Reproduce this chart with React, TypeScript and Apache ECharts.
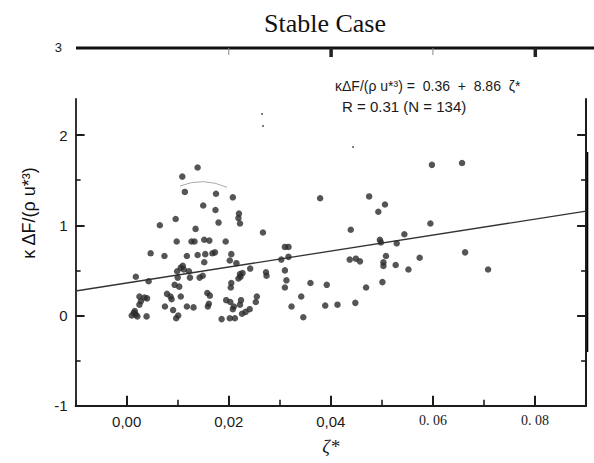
import React, { useEffect, useRef } from 'react';
import * as echarts from 'echarts';

// ---- data ----
const zeta = [
  0.0139, 0.0109, 0.0114, 0.0175, 0.0208, 0.0150, 0.0174, 0.0220, 0.0219, 0.0222,
  0.0180, 0.0096, 0.0065, 0.0135, 0.0267, 0.0098, 0.0127, 0.0133, 0.0152, 0.0162,
  0.0194, 0.0310, 0.0317, 0.0047, 0.0074, 0.0118, 0.0139, 0.0154, 0.0168, 0.0173,
  0.0205, 0.0202, 0.0152, 0.0215, 0.0242, 0.0317, 0.0303, 0.0310, 0.0273, 0.0274,
  0.0222, 0.0227, 0.0110, 0.0106, 0.0112, 0.0122, 0.0099, 0.0124, 0.0100, 0.0143,
  0.0149, 0.0223, 0.0219, 0.0018, 0.0043, 0.0094, 0.0103, 0.0205, 0.0204, 0.0025,
  0.0035, 0.0028, 0.0025, 0.0079, 0.0086, 0.0088, 0.0106, 0.0158, 0.0163, 0.0161,
  0.0159, 0.0075, 0.0118, 0.0131, 0.0195, 0.0203, 0.0210, 0.0208, 0.0222, 0.0233,
  0.0014, 0.0010, 0.0018, 0.0021, 0.0039, 0.0091, 0.0101, 0.0097, 0.0186, 0.0202,
  0.0212, 0.0226, 0.0241, 0.0253, 0.0255,
  0.0313, 0.0310, 0.0323, 0.0360, 0.0392, 0.0437, 0.0449, 0.0457, 0.0469, 0.0342,
  0.0389, 0.0413, 0.0448, 0.0346, 0.0379, 0.0475, 0.0439, 0.0598, 0.0657, 0.0506,
  0.0493, 0.0595, 0.0544, 0.0496, 0.0498, 0.0529, 0.0508, 0.0503, 0.0503, 0.0527,
  0.0574, 0.0552, 0.0663, 0.0708, 0.0501,
  0.0040, 0.0016, 0.0224,
];

const flux = [
  1.64, 1.54, 1.37, 1.35, 1.31, 1.22, 1.17, 1.13, 1.08, 1.02,
  1.03, 1.07, 1.00, 0.96, 0.92, 0.82, 0.82, 0.82, 0.84, 0.83,
  0.82, 0.76, 0.76, 0.69, 0.66, 0.66, 0.67, 0.68, 0.69, 0.70,
  0.68, 0.61, 0.59, 0.58, 0.52, 0.65, 0.62, 0.50, 0.48, 0.44,
  0.46, 0.47, 0.55, 0.53, 0.51, 0.49, 0.49, 0.42, 0.42, 0.42,
  0.44, 0.43, 0.41, 0.43, 0.38, 0.34, 0.32, 0.36, 0.31, 0.21,
  0.20, 0.16, 0.12, 0.24, 0.21, 0.18, 0.21, 0.25, 0.22, 0.13,
  0.10, 0.10, 0.10, 0.09, 0.17, 0.15, 0.10, 0.07, 0.12, 0.04,
  0.03, 0.00, 0.01, -0.01, -0.01, 0.06, 0.00, -0.03, -0.04, -0.03,
  -0.03, 0.02, 0.07, 0.15, 0.21,
  0.39, 0.31, 0.10, 0.36, 0.34, 0.62, 0.63, 0.60, 0.31, 0.21,
  0.11, 0.12, 0.14, -0.02, 1.30, 1.32, 0.95, 1.67, 1.69, 1.23,
  1.15, 1.02, 0.90, 0.84, 0.81, 0.80, 0.66, 0.59, 0.55, 0.56,
  0.64, 0.51, 0.70, 0.51, 0.37,
  0.19, 0.05, 0.17,
];

const fitIntercept = 0.36;
const fitSlope = 8.86;
const fitRange = [-0.01, 0.09];

const xTickValues = [0, 0.02, 0.04, 0.06, 0.08];
const xTickLabels = ['0,00', '0,02', '0,04', '0. 06', '0. 08'];
const yTickValues = [-1, 0, 1, 2];
const yTickLabels = ['-1', '0', '1', '2'];
const topTicks = [0.02, 0.04, 0.06, 0.08];

const titleText = 'Stable Case';
const yName = 'κ ΔF/(ρ u*³)';
const xName = 'ζ*';
const eqText = 'κΔF/(ρ u*³) =  0.36  +  8.86  ζ*';
const rText = 'R = 0.31 (N = 134)';

const SANS = '"Liberation Sans", Arial, sans-serif';
const SERIF = '"Liberation Serif", "Times New Roman", serif';
const INK = '#1a1a1a';
const AX = '#1c1c1c';

export default function App() {
  const ref = useRef<HTMLDivElement>(null);

  useEffect(() => {
    document.body.style.margin = '0';
    const chart = echarts.init(ref.current!, null, { renderer: 'svg' });

    const points = zeta.map((x, i) => [x, flux[i]]);
    const fitLine = fitRange.map((x) => [x, fitIntercept + fitSlope * x]);

    const gridBox = { left: 75.6, right: 7.9, top: 99, bottom: 57.3, containLabel: false };

    const labelOf = (vals: number[], labels: string[], v: number) => {
      const i = vals.findIndex((t) => Math.abs(t - v) < 1e-9);
      return i < 0 ? '' : labels[i];
    };

    const yCommon = {
      type: 'value',
      min: -1,
      max: 2.4,
      interval: 1,
      splitLine: { show: false },
      minorTick: { show: true, splitNumber: 2, length: 5, lineStyle: { color: AX, width: 1.6 } },
      minorSplitLine: { show: false },
    };

    const option: any = {
      animation: false,
      backgroundColor: '#ffffff',
      grid: [gridBox, gridBox],
      xAxis: [
        {
          type: 'value',
          gridIndex: 0,
          min: -0.01,
          max: 0.09,
          position: 'bottom',
          splitLine: { show: false },
          name: xName,
          nameLocation: 'middle',
          nameGap: 31,
          nameTextStyle: { fontFamily: SERIF, fontStyle: 'italic', fontSize: 19, color: INK },
          axisLine: { show: true, onZero: false, lineStyle: { color: AX, width: 2 } },
          axisTick: { show: true, inside: true, length: 10, lineStyle: { color: AX, width: 2 } },
          axisLabel: {
            show: true,
            margin: 8,
            showMinLabel: false,
            showMaxLabel: false,
            formatter: (v: number) => {
              const s = labelOf(xTickValues, xTickLabels, v);
              if (!s) return '';
              return s.indexOf('. ') >= 0 ? `{serif|${s}}` : `{sans|${s}}`;
            },
            rich: {
              sans: { fontFamily: SANS, fontSize: 15, color: INK },
              serif: { fontFamily: SERIF, fontSize: 14, color: INK },
            },
          },
        },
        {
          // minor ticks at 0.01, 0.03, ... (counted from min)
          type: 'value',
          gridIndex: 1,
          min: -0.01,
          max: 0.09,
          interval: 0.02,
          position: 'bottom',
          splitLine: { show: false },
          axisLine: { show: false, onZero: false },
          axisTick: { show: true, inside: true, length: 6, lineStyle: { color: AX, width: 1.6 } },
          axisLabel: { show: false },
        },
      ],
      yAxis: [
        {
          ...yCommon,
          gridIndex: 0,
          position: 'left',
          axisLine: { show: true, onZero: false, lineStyle: { color: AX, width: 1.8 } },
          axisTick: { show: true, inside: true, length: 9, customValues: yTickValues, lineStyle: { color: AX, width: 2 } },
          axisLabel: {
            show: true,
            margin: 8,
            showMaxLabel: false,
            formatter: (v: number) => labelOf(yTickValues, yTickLabels, v),
            fontFamily: SANS,
            fontSize: 15,
            color: INK,
          },
        },
        {
          ...yCommon,
          gridIndex: 0,
          position: 'right',
          axisLine: { show: true, onZero: false, lineStyle: { color: AX, width: 2 } },
          axisTick: { show: true, inside: true, length: 9, customValues: yTickValues, lineStyle: { color: AX, width: 2 } },
          axisLabel: { show: false },
        },
        {
          type: 'value',
          gridIndex: 1,
          min: -1,
          max: 2.4,
          show: false,
        },
      ],
      series: [
        {
          type: 'line',
          xAxisIndex: 0,
          yAxisIndex: 0,
          data: fitLine,
          symbol: 'none',
          silent: true,
          lineStyle: { color: '#333333', width: 1.3 },
          z: 2,
        },
        {
          type: 'scatter',
          xAxisIndex: 0,
          yAxisIndex: 0,
          data: points,
          symbol: 'circle',
          symbolSize: 6.5,
          itemStyle: { color: '#2b2b2b' },
          z: 3,
        },
      ],
    };

    chart.setOption(option);

    const px = (v: number) => chart.convertToPixel({ xAxisIndex: 0 }, v) as number;
    const topY = 48;
    const graphics: any[] = [
      {
        type: 'text',
        x: 325,
        y: 23,
        style: { text: titleText, font: `26px ${SERIF}`, fill: '#111', align: 'center', verticalAlign: 'middle' },
      },
      {
        type: 'text',
        x: 62,
        y: topY - 1,
        style: { text: '3', font: `13px ${SANS}`, fill: INK, align: 'right', verticalAlign: 'middle' },
      },
      {
        type: 'line',
        shape: { x1: 76, y1: topY, x2: 594, y2: topY },
        style: { stroke: '#111', lineWidth: 3 },
      },
      {
        type: 'text',
        x: 335,
        y: 86,
        style: { text: eqText, font: `14px ${SANS}`, fill: INK, align: 'left', verticalAlign: 'middle' },
      },
      {
        type: 'text',
        x: 342,
        y: 106,
        style: { text: rText, font: `15px ${SANS}`, fill: INK, align: 'left', verticalAlign: 'middle' },
      },
      {
        type: 'text',
        x: 29,
        y: 213,
        rotation: Math.PI / 2,
        style: { text: yName, font: `18px ${SANS}`, fill: '#111', align: 'center', verticalAlign: 'middle' },
      },
      {
        type: 'rect',
        shape: { x: 585.3, y: 152, width: 3, height: 200 },
        style: { fill: '#000' },
      },
      {
        type: 'bezierCurve',
        shape: { x1: 180, y1: 186, x2: 227, y2: 187.3, cpx1: 203, cpy1: 176.7 },
        style: { stroke: '#aaaaaa', lineWidth: 1, fill: 'none' },
      },
      { type: 'circle', shape: { cx: 262, cy: 114, r: 0.9 }, style: { fill: '#444' } },
      { type: 'circle', shape: { cx: 263, cy: 126, r: 0.9 }, style: { fill: '#444' } },
      { type: 'circle', shape: { cx: 353, cy: 147, r: 0.9 }, style: { fill: '#444' } },
    ];
    topTicks.forEach((v, i) => {
      const x = px(v);
      if (i % 2 === 0) {
        graphics.push({
          type: 'line',
          shape: { x1: x, y1: topY, x2: x, y2: topY + 7 },
          style: { stroke: '#888', lineWidth: 1 },
        });
      } else {
        graphics.push({
          type: 'rect',
          shape: { x: x - 1.5, y: topY, width: 3.5, height: 9 },
          style: { fill: '#222' },
        });
      }
    });
    chart.setOption({ graphic: graphics });

    return () => chart.dispose();
  }, []);

  return (
    <div
      ref={ref}
      style={{ position: 'fixed', left: 0, top: 0, width: 594, height: 463, background: '#ffffff' }}
    />
  );
}
